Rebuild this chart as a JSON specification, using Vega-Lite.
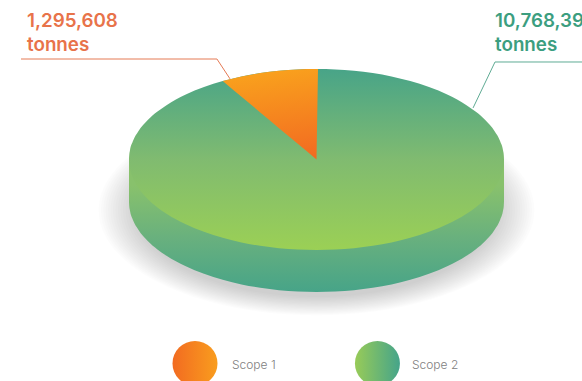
{
"$schema":"https://vega.github.io/schema/vega-lite/v6.json",
"width":582,"height":381,"padding":0,"autosize":{"type":"none"},
"background":"white",
"config":{"view":{"stroke":null}},
"datasets":{
"rim":[{"x":-1,"y":0,"y2":0},{"x":-0.999,"y":0.045,"y2":-0.045},{"x":-0.995,"y":0.1,"y2":-0.1},{"x":-0.98,"y":0.199,"y2":-0.199},{"x":-0.95,"y":0.312,"y2":-0.312},{"x":-0.9,"y":0.436,"y2":-0.436},{"x":-0.85,"y":0.527,"y2":-0.527},{"x":-0.8,"y":0.6,"y2":-0.6},{"x":-0.7,"y":0.714,"y2":-0.714},{"x":-0.6,"y":0.8,"y2":-0.8},{"x":-0.5,"y":0.866,"y2":-0.866},{"x":-0.4,"y":0.917,"y2":-0.917},{"x":-0.3,"y":0.954,"y2":-0.954},{"x":-0.2,"y":0.98,"y2":-0.98},{"x":-0.1,"y":0.995,"y2":-0.995},{"x":0,"y":1,"y2":-1},{"x":0.1,"y":0.995,"y2":-0.995},{"x":0.2,"y":0.98,"y2":-0.98},{"x":0.3,"y":0.954,"y2":-0.954},{"x":0.4,"y":0.917,"y2":-0.917},{"x":0.5,"y":0.866,"y2":-0.866},{"x":0.6,"y":0.8,"y2":-0.8},{"x":0.7,"y":0.714,"y2":-0.714},{"x":0.8,"y":0.6,"y2":-0.6},{"x":0.85,"y":0.527,"y2":-0.527},{"x":0.9,"y":0.436,"y2":-0.436},{"x":0.95,"y":0.312,"y2":-0.312},{"x":0.98,"y":0.199,"y2":-0.199},{"x":0.995,"y":0.1,"y2":-0.1},{"x":0.999,"y":0.045,"y2":-0.045},{"x":1,"y":0,"y2":0}],
"side":[{"x":-1,"y":0,"y2":-0.464},{"x":-0.999,"y":0,"y2":-0.509},{"x":-0.995,"y":0,"y2":-0.564},{"x":-0.98,"y":0,"y2":-0.663},{"x":-0.95,"y":0,"y2":-0.776},{"x":-0.9,"y":0,"y2":-0.9},{"x":-0.85,"y":0,"y2":-0.991},{"x":-0.8,"y":0,"y2":-1.064},{"x":-0.7,"y":0,"y2":-1.178},{"x":-0.6,"y":0,"y2":-1.264},{"x":-0.5,"y":0,"y2":-1.33},{"x":-0.4,"y":0,"y2":-1.381},{"x":-0.3,"y":0,"y2":-1.418},{"x":-0.2,"y":0,"y2":-1.444},{"x":-0.1,"y":0,"y2":-1.459},{"x":0,"y":0,"y2":-1.464},{"x":0.1,"y":0,"y2":-1.459},{"x":0.2,"y":0,"y2":-1.444},{"x":0.3,"y":0,"y2":-1.418},{"x":0.4,"y":0,"y2":-1.381},{"x":0.5,"y":0,"y2":-1.33},{"x":0.6,"y":0,"y2":-1.264},{"x":0.7,"y":0,"y2":-1.178},{"x":0.8,"y":0,"y2":-1.064},{"x":0.85,"y":0,"y2":-0.991},{"x":0.9,"y":0,"y2":-0.9},{"x":0.95,"y":0,"y2":-0.776},{"x":0.98,"y":0,"y2":-0.663},{"x":0.995,"y":0,"y2":-0.564},{"x":0.999,"y":0,"y2":-0.509},{"x":1,"y":0,"y2":-0.464}],
"wedge":[{"x":-0.5,"y":0.866,"y2":0.866},{"x":-0.45,"y":0.893,"y2":0.779},{"x":-0.4,"y":0.917,"y2":0.693},{"x":-0.35,"y":0.937,"y2":0.606},{"x":-0.3,"y":0.954,"y2":0.52},{"x":-0.25,"y":0.968,"y2":0.433},{"x":-0.2,"y":0.98,"y2":0.346},{"x":-0.15,"y":0.989,"y2":0.26},{"x":-0.1,"y":0.995,"y2":0.173},{"x":-0.05,"y":0.999,"y2":0.087},{"x":0,"y":1,"y2":0},{"x":0.008,"y":1,"y2":1}],
"shadow":[{"x":0,"y":-0.56,"level":1},{"x":0,"y":-0.56,"level":2},{"x":0,"y":-0.56,"level":3},{"x":0,"y":-0.56,"level":4},{"x":0,"y":-0.56,"level":5},{"x":0,"y":-0.56,"level":6},{"x":0,"y":-0.56,"level":7},{"x":0,"y":-0.56,"level":8},{"x":0,"y":-0.56,"level":9},{"x":0,"y":-0.56,"level":10},{"x":0,"y":-0.56,"level":11},{"x":0,"y":-0.56,"level":12},{"x":0,"y":-0.56,"level":13},{"x":0,"y":-0.56,"level":14},{"x":0,"y":-0.56,"level":15},{"x":0,"y":-0.56,"level":16}]
},
"encoding":{
"x":{"field":"x","type":"quantitative","axis":null,"scale":{"domain":[-1.688,1.416],"nice":false,"zero":false}},
"y":{"field":"y","type":"quantitative","axis":null,"scale":{"domain":[-2.448,1.762],"nice":false,"zero":false}}
},
"layer":[
{"data":{"name":"shadow"},
"mark":{"type":"point","filled":true,"fill":"#000000","opacity":0.011,"stroke":null,"shape":"M-1,0A1,0.483,0,1,0,1,0A1,0.483,0,1,0,-1,0Z"},
"encoding":{"size":{"field":"level","type":"quantitative","legend":null,"scale":{"domain":[1,16],"range":[130000,190000],"zero":false}},"order":{"field":"level"}}},
{"data":{"name":"side"},
"mark":{"type":"area","interpolate":"monotone","fill":{"gradient":"linear","x1":0,"y1":0,"x2":0,"y2":1,"stops":[{"offset":0.2,"color":"#88c16c"},{"offset":0.6,"color":"#68b07e"},{"offset":1,"color":"#47a488"}]}},
"encoding":{"y2":{"field":"y2"}}},
{"data":{"name":"rim"},
"mark":{"type":"area","interpolate":"monotone","fill":{"gradient":"linear","x1":0,"y1":0,"x2":0,"y2":1,"stops":[{"offset":0,"color":"#48a488"},{"offset":0.5,"color":"#80bb70"},{"offset":1,"color":"#9bd055"}]}},
"encoding":{"y2":{"field":"y2"}}},
{"data":{"name":"wedge"},
"mark":{"type":"area","interpolate":"linear","fill":{"gradient":"linear","x1":0.7,"y1":0,"x2":0.85,"y2":1,"stops":[{"offset":0,"color":"#f9a01d"},{"offset":1,"color":"#f26a21"}]}},
"encoding":{"y2":{"field":"y2"}}},
{"data":{"values":[{"x":-1.576,"y":1.11,"step":1},{"x":-0.531,"y":1.11,"step":2},{"x":-0.461,"y":0.89,"step":3}]},
"mark":{"type":"line","stroke":"#e57a55","strokeWidth":1},
"encoding":{"order":{"field":"step"}}},
{"data":{"values":[{"x":1.416,"y":1.077,"step":1},{"x":0.952,"y":1.077,"step":2},{"x":0.835,"y":0.569,"step":3}]},
"mark":{"type":"line","stroke":"#5fab94","strokeWidth":1},
"encoding":{"order":{"field":"step"}}},
{"data":{"values":[{"x":-1.544,"y":1.464,"label":"1,295,608"},{"x":-1.544,"y":1.199,"label":"tonnes"}]},
"mark":{"type":"text","align":"left","baseline":"alphabetic","font":"Inter","fontSize":18.8,"fontWeight":600,"fill":"#e8734a"},
"encoding":{"text":{"field":"label"}}},
{"data":{"values":[{"x":0.952,"y":1.464,"label":"10,768,39"},{"x":0.952,"y":1.199,"label":"tonnes"}]},
"mark":{"type":"text","align":"left","baseline":"alphabetic","font":"Inter","fontSize":18.8,"fontWeight":600,"fill":"#3c9e80"},
"encoding":{"text":{"field":"label"}}},
{"data":{"values":[{"x":-0.648,"y":-2.254,"series":"Scope 1"}]},
"mark":{"type":"point","filled":true,"shape":"circle","size":2025,"opacity":1,"stroke":null,"fill":{"gradient":"linear","x1":0,"y1":0,"x2":1,"y2":0,"stops":[{"offset":0,"color":"#f26b21"},{"offset":1,"color":"#f99d1e"}]}}},
{"data":{"values":[{"x":0.325,"y":-2.254,"series":"Scope 2"}]},
"mark":{"type":"point","filled":true,"shape":"circle","size":2025,"opacity":1,"stroke":null,"fill":{"gradient":"linear","x1":0,"y1":0,"x2":1,"y2":0,"stops":[{"offset":0,"color":"#98cb58"},{"offset":1,"color":"#45a48a"}]}}},
{"data":{"values":[{"x":-0.451,"y":-2.31,"label":"Scope 1"},{"x":0.509,"y":-2.31,"label":"Scope 2"}]},
"mark":{"type":"text","align":"left","baseline":"alphabetic","font":"Inter","fontSize":12,"fontWeight":300,"fill":"#808080"},
"encoding":{"text":{"field":"label"}}}
]
}
